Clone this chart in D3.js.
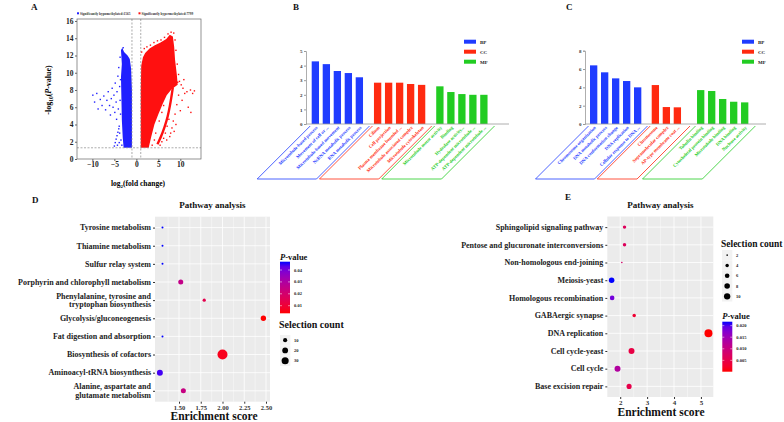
<!DOCTYPE html>
<html><head><meta charset="utf-8">
<script src="https://cdn.jsdelivr.net/npm/d3@7"></script>
<style>
body{margin:0;background:#fff}
svg{display:block}
text{font-family:"Liberation Serif","Times New Roman",serif;font-weight:bold}
</style>
</head><body>
<svg id="c" width="784" height="422"></svg>
<script>
// ---------------- DATA ----------------
// Panel A (volcano)
const volcanoXTicks = [-10, -5, 0, 5, 10];
const volcanoYTicks = [0, 2, 4, 6, 8, 10, 12, 14, 16];
const volcanoLegend = ["Significantly hypomethylated:1565", "Significantly hypermethylated:7799"];
const hypoCore = [[-1.0,1.3],[-2.9,1.3],[-3.1,2.5],[-3.3,4.5],[-3.4,7],[-3.5,9.5],[-3.3,11],[-3.5,12.6],[-3.2,12.9],[-2.8,12.4],[-2.4,12.2],[-2.0,12.0],[-1.5,11.6],[-1.2,10.5],[-1.0,8]];
const hyperCore = [[1.0,1.3],[2.8,1.3],[3.4,2.6],[4.1,4.0],[5.0,5.2],[6.0,6.4],[6.9,7.4],[8.0,8.1],[9.4,8.6],[9.2,9.8],[8.8,11.5],[8.6,13.0],[8.3,14.2],[7.6,14.4],[6.8,13.9],[5.5,13.5],[4.2,13.2],[3.0,12.8],[2.0,12.3],[1.5,11.8],[1.1,10.8],[1.0,8.0]];
const hyperStreak = [[4.8,1.7],[5.6,2.6],[6.4,3.7],[7.1,4.9],[7.6,6.1],[8.0,7.3],[8.3,8.3]];
const hypoPoints = [[-9.9,7.4],[-9.5,6.6],[-9.0,7.6],[-8.7,5.8],[-8.2,6.9],[-7.8,6.2],[-7.4,7.3],[-7.0,5.7],[-6.7,6.8],[-6.4,7.8],[-6.1,6.2],[-5.9,5.1],[-5.7,7.0],[-5.5,8.2],[-5.3,6.0],[-5.1,7.4],[-4.9,5.4],[-4.8,8.8],[-4.6,6.6],[-4.5,4.6],[-4.4,7.8],[-4.2,9.6],[-4.1,5.8],[-4.0,10.6],[-3.9,3.8],[-3.8,8.4],[-3.7,6.8],[-3.7,11.8],[-3.6,5.2],[-3.6,9.2],[-5.0,1.5],[-4.8,1.9],[-4.6,2.3],[-4.4,2.7],[-4.2,3.1],[-4.0,3.5],[-3.8,3.0],[-3.5,2.2],[-4.3,1.6],[-3.9,1.9],[-3.3,1.6],[-3.2,12.6],[-3.0,12.9]];
const hyperPoints = [[1.2,12.4],[1.8,12.8],[2.4,13.0],[3.2,13.2],[4.0,13.5],[4.8,13.7],[5.6,13.8],[6.4,14.1],[7.2,14.5],[7.9,14.7],[8.5,14.6],[8.8,13.8],[9.0,12.6],[9.3,11.0],[9.6,9.8],[9.8,9.0],[10.2,8.6],[10.6,8.2],[11.0,7.6],[11.5,7.8],[12.3,8.0],[12.8,7.6],[11.8,6.0],[12.4,5.4],[10.4,6.8],[10.0,5.6],[9.6,7.4],[9.2,6.3],[8.8,5.2],[8.4,4.4],[8.1,3.6],[7.8,3.0],[8.6,3.2],[9.0,4.0],[7.4,4.6],[7.0,3.8],[6.6,3.0],[6.2,2.4],[5.8,2.0],[5.4,1.6],[6.9,2.2],[7.6,2.6],[3.6,1.6],[4.1,2.2],[4.4,3.0],[5.2,4.4],[5.8,5.4],[6.2,6.2],[10.8,9.2],[13.2,7.9],[9.4,8.9]];

// Panel B (GO bars)
const bGroupNames = ["BP", "CC", "MF"];
const bBPLabels = ["Microtubule-based process","Movement of cell or ...","Microtubule-based movement","NcRNA metabolic process","RNA metabolic process"];
const bBPValues = [4.29, 4.10, 3.63, 3.49, 3.20];
const bCCLabels = ["Cilium","Cell projection","Plasma membrane bounded ...","Microtubule associated complex","Microtubule cytoskeleton"];
const bCCValues = [2.83, 2.83, 2.83, 2.74, 2.68];
const bMFLabels = ["Microtubule motor activity","Binding","Hydrolase activity...","ATP-dependent microtubule ...","ATP-dependent microtubule ..."];
const bMFValues = [2.58, 2.19, 2.05, 2.00, 2.00];
const bYTicks = [0, 1, 2, 3, 4, 5];

// Panel C (GO bars)
const cBPLabels = ["Chromosome organization","DNA metabolic process","DNA conformation change","DNA replication","Cellular response to DNA ..."];
const cBPValues = [6.40, 5.64, 4.98, 4.69, 4.00];
const cCCLabels = ["Chromosome","Supramolecular complex","AP-type membrane coat ..."];
const cCCValues = [4.25, 1.85, 1.82];
const cMFLabels = ["Tubulin binding","Cytoskeletal protein binding","Microtubule binding","DNA binding","Nuclease activity"];
const cMFValues = [3.70, 3.60, 2.73, 2.43, 2.36];
const cYTicks = [0, 2, 4, 6, 8];

// Panel D (KEGG dot plot)
const dPathways = ["Tyrosine metabolism","Thiamine metabolism","Sulfur relay system","Porphyrin and chlorophyll metabolism","Phenylalanine, tyrosine and|tryptophan biosynthesis","Glycolysis/gluconeogenesis","Fat digestion and absorption","Biosynthesis of cofactors","Aminoacyl-tRNA biosynthesis","Alanine, aspartate and|glutamate metabolism"];
const dEnrichment = [1.31, 1.31, 1.31, 1.52, 1.79, 2.47, 1.31, 2.00, 1.28, 1.55];
const dPValue = [0.047, 0.047, 0.047, 0.025, 0.014, 0.0036, 0.047, 0.006, 0.045, 0.024];
const dCount = [2, 2, 2, 15, 6, 17, 2, 60, 21, 15];
const dXTicks = [1.50, 1.75, 2.00, 2.25, 2.50];
const dPTicks = [0.01, 0.02, 0.03, 0.04];
const dSizeTicks = [10, 20, 30];

// Panel E (KEGG dot plot)
const ePathways = ["Sphingolipid signaling pathway","Pentose and glucuronate interconversions","Non-homologous end-joining","Meiosis-yeast","Homologous recombination","GABAergic synapse","DNA replication","Cell cycle-yeast","Cell cycle","Base excision repair"];
const eEnrichment = [2.16, 2.16, 2.06, 1.68, 1.70, 2.52, 5.28, 2.42, 1.90, 2.33];
const ePValue = [0.0066, 0.0066, 0.008, 0.0217, 0.0185, 0.003, 0.0001, 0.0045, 0.013, 0.005];
const eCount = [4, 4, 2, 8, 6, 4, 15, 9, 9, 7];
const eXTicks = [2, 3, 4, 5];
const ePTicks = [0.005, 0.010, 0.015, 0.020];
const eSizeTicks = [2, 4, 6, 8, 10];

// ---------------- DRAW ----------------
const svg = d3.select("#c");
svg.append("rect").attr("width", 784).attr("height", 422).attr("fill", "#fff");
const BLUE = "#1f3cff", RED = "#ff2a10", GREEN = "#22cc22";

function label(x, y, s, size, anchor = "start", fill = "#111") {
  return svg.append("text").attr("x", x).attr("y", y).attr("font-size", size)
    .attr("text-anchor", anchor).attr("fill", fill).text(s);
}

// Panel letters
label(31, 10, "A", 9);
label(293, 10, "B", 9);
label(566, 10, "C", 9);
label(32, 203, "D", 9);
label(565, 200, "E", 9);

// ---- Panel A ----
(function () {
  const vx = d3.scaleLinear().domain([-13.5, 14.7]).range([77, 201]);
  const vy = d3.scaleLinear().domain([0, 16.23]).range([159, 19]);
  const g = svg.append("g");
  const ln = d3.line().x(d => vx(d[0])).y(d => vy(d[1]));
  const lnc = d3.line().x(d => vx(d[0])).y(d => vy(d[1])).curve(d3.curveCatmullRom);
  g.append("path").attr("d", ln(hypoCore) + "Z").attr("fill", "#2020ff");
  g.append("path").attr("d", ln(hyperCore) + "Z").attr("fill", "#ff1010");
  g.append("path").attr("d", lnc(hyperStreak)).attr("fill", "none")
    .attr("stroke", "#ff1010").attr("stroke-width", 2.4);
  g.selectAll(".hp").data(hypoPoints).join("rect")
    .attr("x", d => vx(d[0]) - 0.7).attr("y", d => vy(d[1]) - 0.7)
    .attr("width", 1.4).attr("height", 1.4).attr("fill", "#2020ff");
  g.selectAll(".rp").data(hyperPoints).join("rect")
    .attr("x", d => vx(d[0]) - 0.7).attr("y", d => vy(d[1]) - 0.7)
    .attr("width", 1.4).attr("height", 1.4).attr("fill", "#ff1010");
  // threshold lines
  [-1, 1].forEach(v => g.append("line").attr("x1", vx(v)).attr("x2", vx(v)).attr("y1", 19).attr("y2", 159)
    .attr("stroke", "#888").attr("stroke-width", 0.7).attr("stroke-dasharray", "2,1.5"));
  g.append("line").attr("x1", 77).attr("x2", 201).attr("y1", vy(1.3)).attr("y2", vy(1.3))
    .attr("stroke", "#888").attr("stroke-width", 0.7).attr("stroke-dasharray", "2,1.5");
  g.append("rect").attr("x", 77).attr("y", 19).attr("width", 124).attr("height", 140)
    .attr("fill", "none").attr("stroke", "#666").attr("stroke-width", 0.7);
  const ay = g.append("g").attr("transform", "translate(77,0)")
    .call(d3.axisLeft(vy).tickValues(volcanoYTicks).tickFormat(d3.format("d")).tickSize(2).tickPadding(1.5));
  const ax = g.append("g").attr("transform", "translate(0,159)")
    .call(d3.axisBottom(vx).tickValues(volcanoXTicks).tickFormat(d3.format("d")).tickSize(2).tickPadding(1));
  [ay, ax].forEach(a => {
    a.select(".domain").remove();
    a.selectAll("line").attr("stroke", "#666");
    a.selectAll("text").attr("font-size", 7.5).attr("fill", "#222")
      .attr("font-family", '"Liberation Serif",serif').attr("font-weight", "bold");
  });
  // axis titles
  const xt = svg.append("text").attr("x", 138).attr("y", 186).attr("font-size", 7.5).attr("text-anchor", "middle");
  xt.append("tspan").text("log");
  xt.append("tspan").attr("font-size", 5).attr("dy", 2).text("2");
  xt.append("tspan").attr("dy", -2).text("(fold change)");
  const yt = svg.append("text").attr("transform", "translate(51,90) rotate(-90)").attr("font-size", 8).attr("text-anchor", "middle");
  yt.append("tspan").text("-log");
  yt.append("tspan").attr("font-size", 5.5).attr("dy", 2).text("10");
  yt.append("tspan").attr("dy", -2).text("(");
  yt.append("tspan").attr("font-style", "italic").text("P");
  yt.append("tspan").text("-value)");
  // legend
  const lg = svg.append("g");
  lg.append("rect").attr("x", 77).attr("y", 12.3).attr("width", 2).attr("height", 2).attr("fill", "#2020ff");
  lg.append("text").attr("x", 80).attr("y", 14.6).attr("font-size", 3.4).attr("font-weight", "normal").attr("fill", "#333").text(volcanoLegend[0]);
  lg.append("rect").attr("x", 138.5).attr("y", 12.3).attr("width", 2).attr("height", 2).attr("fill", "#ff1010");
  lg.append("text").attr("x", 141.5).attr("y", 14.6).attr("font-size", 3.4).attr("font-weight", "normal").attr("fill", "#333").text(volcanoLegend[1]);
})();

// ---- Panels B, C ----
function barPanel(cfg) {
  const g = svg.append("g");
  const items = [];
  let u = 0;
  cfg.groups.forEach((grp, gi) => {
    if (gi > 0) u += cfg.gaps[gi - 1];
    grp.labels.forEach((lab, i) => { items.push({ label: lab, value: grp.values[i], color: grp.color, u, gi }); u += 1; });
  });
  const x = d3.scaleLinear().domain([0, 1]).range([cfg.x0, cfg.x0 + cfg.slot]);
  const bw = cfg.slot * 0.665;
  const y = d3.scaleLinear().domain([0, cfg.ymax]).range([124, cfg.ytop]);
  g.selectAll(".bar").data(items).join("rect")
    .attr("x", d => x(d.u)).attr("y", d => y(d.value))
    .attr("width", bw).attr("height", d => y(0) - y(d.value)).attr("fill", d => d.color);
  // x axis line
  g.append("line").attr("x1", cfg.axisX).attr("x2", cfg.axisEnd).attr("y1", y(0)).attr("y2", y(0))
    .attr("stroke", "#999").attr("stroke-width", 0.8);
  const ay = g.append("g").attr("transform", `translate(${cfg.axisX},0)`)
    .call(d3.axisLeft(y).tickValues(cfg.ticks).tickFormat(d3.format("d")).tickSize(2).tickPadding(1.5));
  ay.select(".domain").attr("stroke", "#999").attr("stroke-width", 0.8);
  ay.selectAll("line").attr("stroke", "#999");
  ay.selectAll("text").attr("font-size", 5).attr("fill", "#333")
    .attr("font-family", '"Liberation Serif",serif').attr("font-weight", "bold");
  // category labels
  g.selectAll(".lab").data(items).join("text")
    .attr("transform", d => `translate(${x(d.u) + bw / 2 + 1.5},${y(0) + 3}) rotate(-45)`)
    .attr("text-anchor", "end").attr("dy", "0.3em").attr("font-size", 4.6)
    .attr("fill", d => d.color).text(d => d.label);
  // group brackets
  const h = 53;
  cfg.groups.forEach((grp, gi) => {
    const its = items.filter(d => d.gi === gi);
    const left = x(its[0].u) - 1.5;
    const lastRight = x(its[its.length - 1].u) + bw;
    let right;
    if (gi < cfg.groups.length - 1) {
      const next = items.filter(d => d.gi === gi + 1)[0];
      right = (lastRight + x(next.u)) / 2 + 1;
    } else right = lastRight + 7;
    const ty = y(0) + 2;
    g.append("path")
      .attr("d", `M${left},${ty}L${left - h},${ty + h}L${right - h},${ty + h}L${right},${ty}`)
      .attr("fill", "none").attr("stroke", grp.color).attr("stroke-width", 0.8);
  });
  // legend
  cfg.groups.forEach((grp, gi) => {
    g.append("rect").attr("x", cfg.legX).attr("y", 39.7 + gi * 10).attr("width", 12).attr("height", 4).attr("fill", grp.color);
    g.append("text").attr("x", cfg.legX + 16).attr("y", 43.6 + gi * 10).attr("font-size", 5).attr("fill", "#222").text(bGroupNames[gi]);
  });
}
barPanel({
  groups: [{ labels: bBPLabels, values: bBPValues, color: BLUE }, { labels: bCCLabels, values: bCCValues, color: RED }, { labels: bMFLabels, values: bMFValues, color: GREEN }],
  gaps: [0.66, 0.66], x0: 311.7, slot: 11, ymax: 5, ytop: 51, ticks: bYTicks, axisX: 306, axisEnd: 509, legX: 464
});
barPanel({
  groups: [{ labels: cBPLabels, values: cBPValues, color: BLUE }, { labels: cCCLabels, values: cCCValues, color: RED }, { labels: cMFLabels, values: cMFValues, color: GREEN }],
  gaps: [0.61, 1.12], x0: 590, slot: 11, ymax: 8, ytop: 50.7, ticks: cYTicks, axisX: 585, axisEnd: 766, legX: 742
});

// ---- Panels D, E ----
function dotPanel(cfg) {
  const g = svg.append("g");
  const x = d3.scaleLinear().domain(cfg.xdom).range([cfg.left, cfg.right]);
  const y = d3.scalePoint().domain(cfg.cats).range([cfg.top, cfg.bottom]).padding(0.6);
  const pExt = d3.extent(cfg.p);
  const col = v => d3.interpolateLab("#ff0000", "#0000ff")((v - pExt[0]) / (pExt[1] - pExt[0]));
  const cExt = d3.extent(cfg.count);
  const area = d3.scaleLinear().domain(cExt).range(cfg.areaRange);
  const r = c => Math.sqrt(Math.max(0.3, area(c)));
  g.append("rect").attr("x", cfg.left).attr("y", cfg.top).attr("width", cfg.right - cfg.left)
    .attr("height", cfg.bottom - cfg.top).attr("fill", "#ebebeb");
  // grid
  cfg.minor.forEach(v => g.append("line").attr("x1", x(v)).attr("x2", x(v)).attr("y1", cfg.top).attr("y2", cfg.bottom)
    .attr("stroke", "#fff").attr("stroke-width", 0.4));
  cfg.xticks.forEach(v => g.append("line").attr("x1", x(v)).attr("x2", x(v)).attr("y1", cfg.top).attr("y2", cfg.bottom)
    .attr("stroke", "#fff").attr("stroke-width", 0.8));
  cfg.cats.forEach(c => g.append("line").attr("x1", cfg.left).attr("x2", cfg.right).attr("y1", y(c)).attr("y2", y(c))
    .attr("stroke", "#fff").attr("stroke-width", 0.8));
  // points
  const pts = cfg.cats.map((c, i) => ({ c, x: cfg.xv[i], p: cfg.p[i], n: cfg.count[i] }));
  g.selectAll(".pt").data(pts).join("circle")
    .attr("cx", d => x(d.x)).attr("cy", d => y(d.c)).attr("r", d => r(d.n)).attr("fill", d => col(d.p));
  // axes
  const ax = g.append("g").attr("transform", `translate(0,${cfg.bottom})`)
    .call(d3.axisBottom(x).tickValues(cfg.xticks).tickFormat(cfg.xfmt).tickSize(2).tickPadding(1.5));
  ax.select(".domain").remove();
  ax.selectAll("line").attr("stroke", "#333");
  ax.selectAll("text").attr("font-size", cfg.xtickSize).attr("fill", "#333")
    .attr("font-family", '"Liberation Serif",serif').attr("font-weight", "bold");
  const ay = g.append("g").attr("transform", `translate(${cfg.left},0)`)
    .call(d3.axisLeft(y).tickSize(2).tickFormat(""));
  ay.select(".domain").remove();
  ay.selectAll("line").attr("stroke", "#333");
  cfg.cats.forEach(c => {
    const lines = c.split("|");
    lines.forEach((s, k) => {
      g.append("text").attr("x", cfg.left - 4).attr("y", y(c) + 2.8 + (k - (lines.length - 1) / 2) * 8.4)
        .attr("text-anchor", "end").attr("font-size", 8).attr("fill", "#222").text(s);
    });
  });
  // titles
  g.append("text").attr("x", (cfg.left + cfg.right) / 2).attr("y", cfg.titleY).attr("text-anchor", "middle")
    .attr("font-size", 9).attr("fill", "#111").text("Pathway analysis");
  g.append("text").attr("x", cfg.xtitleX).attr("y", cfg.xtitleY).attr("text-anchor", "middle")
    .attr("font-size", 11.5).attr("fill", "#111").text("Enrichment score");
  // colour legend
  const L = cfg.pLeg;
  const gid = "grad" + cfg.id;
  const grad = svg.append("defs").append("linearGradient").attr("id", gid)
    .attr("x1", 0).attr("x2", 0).attr("y1", 1).attr("y2", 0);
  d3.range(0, 1.0001, 0.1).forEach(t => grad.append("stop").attr("offset", t)
    .attr("stop-color", d3.interpolateLab("#ff0000", "#0000ff")(t)));
  const ps = d3.scaleLinear().domain(pExt).range([L.y1, L.y0]);
  const pt = g.append("text").attr("x", L.x).attr("y", L.titleY).attr("font-size", 8.5).attr("fill", "#111");
  pt.append("tspan").attr("font-style", "italic").text("P");
  pt.append("tspan").text("-value");
  g.append("rect").attr("x", L.x).attr("y", L.y0).attr("width", 10).attr("height", L.y1 - L.y0).attr("fill", `url(#${gid})`);
  cfg.pticks.forEach(v => {
    g.append("line").attr("x1", L.x).attr("x2", L.x + 2).attr("y1", ps(v)).attr("y2", ps(v)).attr("stroke", "#fff").attr("stroke-width", 0.5);
    g.append("line").attr("x1", L.x + 8).attr("x2", L.x + 10).attr("y1", ps(v)).attr("y2", ps(v)).attr("stroke", "#fff").attr("stroke-width", 0.5);
    g.append("text").attr("x", L.x + 14).attr("y", ps(v) + 1.5).attr("font-size", 4.5).attr("fill", "#222").text(cfg.pfmt(v));
  });
  // size legend
  const S = cfg.sLeg;
  g.append("text").attr("x", S.x - 1).attr("y", S.titleY).attr("font-size", S.titleSize).attr("fill", "#111").text("Selection count");
  cfg.sizeTicks.forEach((v, i) => {
    const cy = S.y0 + i * 10.3 + 5.15;
    g.append("rect").attr("x", S.x).attr("y", cy - 5.15).attr("width", 10.3).attr("height", 10.3).attr("fill", "#f2f2f2");
    g.append("circle").attr("cx", S.x + 5.15).attr("cy", cy).attr("r", r(v)).attr("fill", "#000");
    g.append("text").attr("x", S.x + 14).attr("y", cy + 1.5).attr("font-size", 4.5).attr("fill", "#222").text(v);
  });
}
dotPanel({
  id: "D", cats: dPathways, xv: dEnrichment, p: dPValue, count: dCount,
  xdom: [1.224, 2.546], left: 155, right: 270, top: 216.7, bottom: 401.7,
  xticks: dXTicks, minor: [1.375, 1.625, 1.875, 2.125, 2.375], xfmt: d3.format(".2f"), xtickSize: 6.5,
  areaRange: [1, 25], titleY: 208, xtitleX: 214, xtitleY: 420,
  pLeg: { x: 280, titleY: 259.5, y0: 261.7, y1: 313.3 }, pticks: dPTicks, pfmt: d3.format(".2f"),
  sLeg: { x: 280, titleY: 328, y0: 335, titleSize: 10 }, sizeTicks: dSizeTicks
});
dotPanel({
  id: "E", cats: ePathways, xv: eEnrichment, p: ePValue, count: eCount,
  xdom: [1.52, 5.46], left: 607.3, right: 713.3, top: 216.5, bottom: 397,
  xticks: eXTicks, minor: [2.5, 3.5, 4.5], xfmt: d3.format("d"), xtickSize: 7,
  areaRange: [0.64, 16], titleY: 208, xtitleX: 661, xtitleY: 416,
  pLeg: { x: 722.3, titleY: 319.3, y0: 321.7, y1: 371.7 }, pticks: ePTicks, pfmt: d3.format(".3f"),
  sLeg: { x: 722, titleY: 246.7, y0: 250, titleSize: 9.5 }, sizeTicks: eSizeTicks
});
</script>
</body></html>
